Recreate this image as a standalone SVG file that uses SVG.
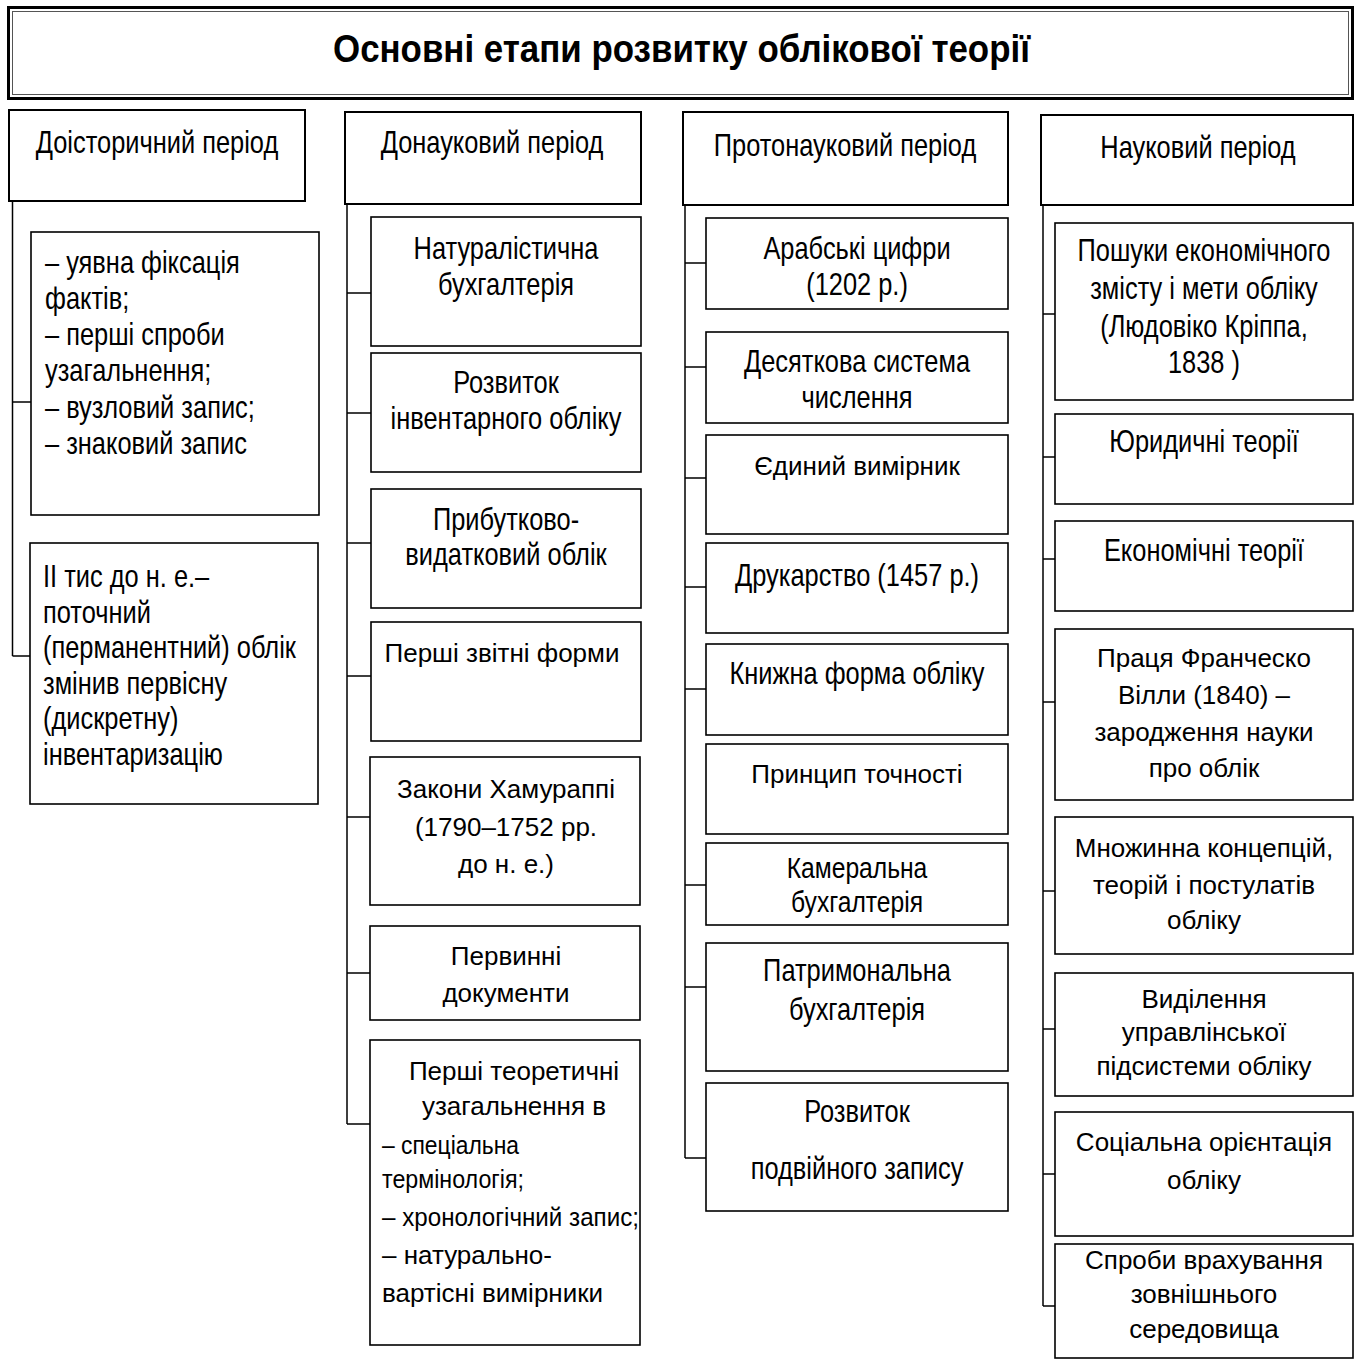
<svg xmlns="http://www.w3.org/2000/svg" width="1359" height="1360" viewBox="0 0 1359 1360">
<style>
text{font-family:"Liberation Sans",Arial,sans-serif;fill:#000}
.n{font-size:31px;text-anchor:middle}
.ns{font-size:29px;text-anchor:middle}
.nl{font-size:31px;text-anchor:start}
.r{font-size:26px;text-anchor:middle}
.rl{font-size:26px;text-anchor:start}
.t{font-size:39px;font-weight:bold;text-anchor:middle}
.hb{fill:#fff;stroke:#000;stroke-width:2}
.b{fill:#fff;stroke:#000;stroke-width:1.6}
.c{fill:none;stroke:#000;stroke-width:1.5}
</style>
<rect width="1359" height="1360" fill="#fff"/>
<g id="title">
<rect x="8.5" y="7.5" width="1344" height="91" fill="#fff" stroke="#000" stroke-width="3"/>
<rect x="12.5" y="11.5" width="1336" height="83" fill="none" stroke="#555" stroke-width="1"/>
<text class="t" x="681.5" y="62" textLength="697" lengthAdjust="spacingAndGlyphs">Основні етапи розвитку облікової теорії</text>
</g>
<g id="connectors">
<path class="c" d="M12.5 201V656M12.5 402H31M12.5 656H30"/>
<path class="c" d="M347 204V1124M347 293H371M347 413H371M347 543H371M347 676H371M347 817H370M347 973H370M347 1124H370"/>
<path class="c" d="M685 205V1158M685 263H706M685 367H706M685 478H706M685 587H706M685 689H706M685 885H706M685 987H706M685 1158H706"/>
<path class="c" d="M1043 205V1306M1043 314H1055M1043 457H1055M1043 559H1055M1043 702H1055M1043 891H1055M1043 1029H1055M1043 1174H1055M1043 1306H1055"/>
</g>
<g id="h1"><rect class="hb" x="9" y="110" width="296" height="91"/><text class="n" transform="translate(157 0) scale(0.82 1)" x="0" y="153">Доісторичний період</text></g>
<g id="h2"><rect class="hb" x="345" y="112" width="296" height="92"/><text class="n" transform="translate(492 0) scale(0.82 1)" x="0" y="153">Донауковий період</text></g>
<g id="h3"><rect class="hb" x="683" y="112" width="325" height="93"/><text class="n" transform="translate(845 0) scale(0.82 1)" x="0" y="156">Протонауковий період</text></g>
<g id="h4"><rect class="hb" x="1041" y="115" width="312" height="90"/><text class="n" transform="translate(1198 0) scale(0.82 1)" x="0" y="158">Науковий період</text></g>

<g id="c1b1"><rect class="b" x="31" y="232" width="288" height="283"/>
<text class="nl" transform="translate(45 0) scale(0.82 1)"><tspan x="0" y="273">– уявна фіксація</tspan><tspan x="0" y="309">фактів;</tspan><tspan x="0" y="345">– перші спроби</tspan><tspan x="0" y="381">узагальнення;</tspan><tspan x="0" y="418">– вузловий запис;</tspan><tspan x="0" y="454">– знаковий запис</tspan></text></g>
<g id="c1b2"><rect class="b" x="30" y="543" width="288" height="261"/>
<text class="nl" transform="translate(43 0) scale(0.82 1)"><tspan x="0" y="587">ІІ тис до н. е.–</tspan><tspan x="0" y="623">поточний</tspan><tspan x="0" y="658">(перманентний) облік</tspan><tspan x="0" y="694">змінив первісну</tspan><tspan x="0" y="729">(дискретну)</tspan><tspan x="0" y="765">інвентаризацію</tspan></text></g>

<g id="c2b1"><rect class="b" x="371" y="217" width="270" height="129"/>
<text class="n" transform="translate(506 0) scale(0.82 1)"><tspan x="0" y="259">Натуралістична</tspan><tspan x="0" y="295">бухгалтерія</tspan></text></g>
<g id="c2b2"><rect class="b" x="371" y="353" width="270" height="119"/>
<text class="n" transform="translate(506 0) scale(0.82 1)"><tspan x="0" y="393">Розвиток</tspan><tspan x="0" y="429">інвентарного обліку</tspan></text></g>
<g id="c2b3"><rect class="b" x="371" y="489" width="270" height="119"/>
<text class="n" transform="translate(506 0) scale(0.82 1)"><tspan x="0" y="530">Прибутково-</tspan><tspan x="0" y="565">видатковий облік</tspan></text></g>
<g id="c2b4"><rect class="b" x="371" y="622" width="270" height="119"/>
<text class="r" x="502" y="662">Перші звітні форми</text></g>
<g id="c2b5"><rect class="b" x="370" y="757" width="270" height="148"/>
<text class="r"><tspan x="506" y="798">Закони Хамураппі</tspan><tspan x="506" y="836">(1790–1752 рр.</tspan><tspan x="506" y="873">до н. е.)</tspan></text></g>
<g id="c2b6"><rect class="b" x="370" y="926" width="270" height="94"/>
<text class="r"><tspan x="506" y="965">Первинні</tspan><tspan x="506" y="1002">документи</tspan></text></g>
<g id="c2b7"><rect class="b" x="370" y="1040" width="270" height="305"/>
<text class="r"><tspan x="514" y="1080">Перші теоретичні</tspan><tspan x="514" y="1115">узагальнення в</tspan></text>
<text class="rl"><tspan x="382" y="1154" textLength="137" lengthAdjust="spacingAndGlyphs">– спеціальна</tspan><tspan x="382" y="1188" textLength="142" lengthAdjust="spacingAndGlyphs">термінологія;</tspan><tspan x="382" y="1226" textLength="257" lengthAdjust="spacingAndGlyphs">– хронологічний запис;</tspan><tspan x="382" y="1264">– натурально-</tspan><tspan x="382" y="1302">вартісні вимірники</tspan></text></g>

<g id="c3b1"><rect class="b" x="706" y="218" width="302" height="91"/>
<text class="n" transform="translate(857 0) scale(0.82 1)"><tspan x="0" y="259">Арабські цифри</tspan><tspan x="0" y="295">(1202 р.)</tspan></text></g>
<g id="c3b2"><rect class="b" x="706" y="332" width="302" height="91"/>
<text class="n" transform="translate(857 0) scale(0.82 1)"><tspan x="0" y="372">Десяткова система</tspan><tspan x="0" y="408">числення</tspan></text></g>
<g id="c3b3"><rect class="b" x="706" y="435" width="302" height="99"/>
<text class="r" x="857" y="475">Єдиний вимірник</text></g>
<g id="c3b4"><rect class="b" x="706" y="543" width="302" height="90"/>
<text class="n" transform="translate(857 0) scale(0.82 1)" x="0" y="586">Друкарство (1457 р.)</text></g>
<g id="c3b5"><rect class="b" x="706" y="644" width="302" height="91"/>
<text class="n" transform="translate(857 0) scale(0.82 1)" x="0" y="684">Книжна форма обліку</text></g>
<g id="c3b6"><rect class="b" x="706" y="744" width="302" height="90"/>
<text class="r" x="857" y="783">Принцип точності</text></g>
<g id="c3b7"><rect class="b" x="706" y="843" width="302" height="82"/>
<text class="ns" transform="translate(857 0) scale(0.85 1)"><tspan x="0" y="878">Камеральна</tspan><tspan x="0" y="912">бухгалтерія</tspan></text></g>
<g id="c3b8"><rect class="b" x="706" y="943" width="302" height="128"/>
<text class="n" transform="translate(857 0) scale(0.82 1)"><tspan x="0" y="981">Патримональна</tspan><tspan x="0" y="1020">бухгалтерія</tspan></text></g>
<g id="c3b9"><rect class="b" x="706" y="1083" width="302" height="128"/>
<text class="n" transform="translate(857 0) scale(0.82 1)"><tspan x="0" y="1122">Розвиток</tspan><tspan x="0" y="1179">подвійного запису</tspan></text></g>

<g id="c4b1"><rect class="b" x="1055" y="223" width="298" height="177"/>
<text class="n" transform="translate(1204 0) scale(0.82 1)"><tspan x="0" y="261">Пошуки економічного</tspan><tspan x="0" y="299">змісту і мети обліку</tspan><tspan x="0" y="337">(Людовіко Кріппа,</tspan><tspan x="0" y="373">1838 )</tspan></text></g>
<g id="c4b2"><rect class="b" x="1055" y="414" width="298" height="90"/>
<text class="n" transform="translate(1204 0) scale(0.82 1)" x="0" y="452">Юридичні теорії</text></g>
<g id="c4b3"><rect class="b" x="1055" y="521" width="298" height="90"/>
<text class="n" transform="translate(1204 0) scale(0.82 1)" x="0" y="561">Економічні теорії</text></g>
<g id="c4b4"><rect class="b" x="1055" y="629" width="298" height="171"/>
<text class="r"><tspan x="1204" y="667">Праця Франческо</tspan><tspan x="1204" y="704">Вілли (1840) –</tspan><tspan x="1204" y="741">зародження науки</tspan><tspan x="1204" y="777">про облік</tspan></text></g>
<g id="c4b5"><rect class="b" x="1055" y="817" width="298" height="137"/>
<text class="r"><tspan x="1204" y="857">Множинна концепцій,</tspan><tspan x="1204" y="894">теорій і постулатів</tspan><tspan x="1204" y="929">обліку</tspan></text></g>
<g id="c4b6"><rect class="b" x="1055" y="973" width="298" height="123"/>
<text class="r"><tspan x="1204" y="1008">Виділення</tspan><tspan x="1204" y="1041">управлінської</tspan><tspan x="1204" y="1075">підсистеми обліку</tspan></text></g>
<g id="c4b7"><rect class="b" x="1055" y="1112" width="298" height="124"/>
<text class="r"><tspan x="1204" y="1151">Соціальна орієнтація</tspan><tspan x="1204" y="1189">обліку</tspan></text></g>
<g id="c4b8"><rect class="b" x="1055" y="1244" width="298" height="114"/>
<text class="r"><tspan x="1204" y="1269">Спроби врахування</tspan><tspan x="1204" y="1303">зовнішнього</tspan><tspan x="1204" y="1338">середовища</tspan></text></g>
</svg>
